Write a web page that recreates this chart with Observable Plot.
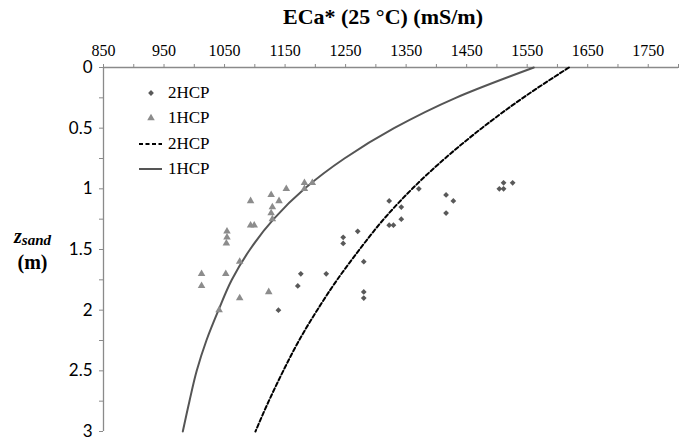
<!DOCTYPE html>
<html><head><meta charset="utf-8">
<script src="https://cdn.jsdelivr.net/npm/d3@7"></script>
<script src="https://cdn.jsdelivr.net/npm/@observablehq/plot@0.6"></script>
<style>
body{margin:0;background:#fff}
#wrap{position:relative;width:685px;height:440px;overflow:hidden}
#title{position:absolute;top:4px;left:383px;transform:translateX(-50%);white-space:nowrap;font-weight:bold;font-size:22px;font-family:"Liberation Serif","Times New Roman",serif;color:#000}
#ylab{position:absolute;left:14px;top:225px;font-weight:bold;font-size:20px;font-family:"Liberation Serif","Times New Roman",serif;color:#000;text-align:center;line-height:22px}
#ylab i{font-style:italic}
#ylab sub{font-size:15px;font-style:italic;vertical-align:-2px}
#legend{position:absolute;left:137px;top:80px;font-size:17px;font-family:"Liberation Serif","Times New Roman",serif;color:#000}
.row{display:flex;align-items:center;height:25.5px}
.row svg{width:26px;height:20px;margin-right:5px}
</style></head><body>
<div id="wrap"><div id="chart"></div>
<div id="title">ECa* (25 °C) (mS/m)</div>
<div id="ylab"><i>z</i><sub>sand</sub><br>(m)</div>
<div id="legend"></div>
</div>
<script>
// x-axis ticks (ECa*, mS/m)
const xTicks = [850, 950, 1050, 1150, 1250, 1350, 1450, 1550, 1650, 1750];
const xTickLabels = ["850", "950", "1050", "1150", "1250", "1350", "1450", "1550", "1650", "1750"];
const xMinorTicks = [850, 900, 950, 1000, 1050, 1100, 1150, 1200, 1250, 1300, 1350, 1400, 1450, 1500, 1550, 1600, 1650, 1700, 1750, 1800];
// y-axis ticks (z_sand, m)
const yTicks = [0, 0.5, 1, 1.5, 2, 2.5, 3];
const yTickLabels = ["0", "0.5", "1", "1.5", "2", "2.5", "3"];
const yMinorTicks = [0, 0.25, 0.5, 0.75, 1, 1.25, 1.5, 1.75, 2, 2.25, 2.5, 2.75, 3];

// 2HCP measured points
const hcp2EC = [1371, 1322, 1342, 1342, 1322, 1329, 1270, 1246, 1246, 1280, 1176, 1218, 1171, 1280, 1280, 1139, 1416, 1428, 1416, 1511, 1526, 1504, 1511];
const hcp2Z  = [1.00, 1.10, 1.15, 1.25, 1.30, 1.30, 1.35, 1.40, 1.45, 1.60, 1.70, 1.70, 1.80, 1.85, 1.90, 2.00, 1.05, 1.10, 1.20, 0.95, 0.95, 1.00, 1.00];
// 1HCP measured points
const hcp1EC = [1182, 1195, 1182, 1152, 1127, 1140, 1093, 1129, 1127, 1129, 1093, 1099, 1054, 1054, 1053, 1075, 1012, 1012, 1052, 1075, 1123, 1041];
const hcp1Z  = [0.95, 0.95, 1.00, 1.00, 1.05, 1.10, 1.10, 1.15, 1.20, 1.25, 1.30, 1.30, 1.35, 1.40, 1.45, 1.60, 1.70, 1.80, 1.70, 1.90, 1.85, 2.00];

// model curves
const curveZ     = [0, 0.25, 0.5, 0.75, 1.0, 1.25, 1.5, 1.75, 2.0, 2.25, 2.5, 2.75, 3.0];
const curve2HCP  = [1619, 1543, 1475, 1414, 1360, 1313, 1273, 1236, 1203, 1173, 1147, 1123, 1101];
const curve1HCP  = [1561, 1432, 1330, 1248, 1182, 1131, 1092, 1062, 1040, 1020, 1004, 992, 981];

const pts2 = hcp2EC.map((x, i) => ({x, z: hcp2Z[i]}));
const pts1 = hcp1EC.map((x, i) => ({x, z: hcp1Z[i]}));
const line2 = curveZ.map((z, i) => ({x: curve2HCP[i], z}));
const line1 = curveZ.map((z, i) => ({x: curve1HCP[i], z}));

const AX = "#8a8a8a";
const SERIF = "Liberation Serif, Times New Roman, serif";
const chart = Plot.plot({
  width: 685, height: 440,
  marginLeft: 103, marginRight: 7, marginTop: 67, marginBottom: 9,
  style: {background: "#fff", overflow: "visible"},
  x: {domain: [850, 1800]},
  y: {domain: [0, 3], reverse: true},
  marks: [
    Plot.ruleY([0], {stroke: AX, strokeWidth: 1.3}),
    Plot.ruleX([850], {stroke: AX, strokeWidth: 1.3}),
    Plot.axisX(xMinorTicks, {anchor: "top", tickSize: 4, stroke: AX, label: null, tickFormat: () => ""}),
    Plot.axisY(yMinorTicks, {anchor: "left", tickSize: 4, stroke: AX, label: null, tickFormat: () => ""}),
    Plot.text(xTicks, {x: d => d, frameAnchor: "top", dy: -17, lineAnchor: "middle",
      text: (d, i) => xTickLabels[i], fontFamily: SERIF, fontSize: 16, fill: "#000"}),
    Plot.text(yTicks, {y: d => d, frameAnchor: "left", dx: -11, textAnchor: "end", lineAnchor: "middle",
      text: (d, i) => yTickLabels[i], fontFamily: "Lato, sans-serif", fontSize: 17, fill: "#000"}),
    Plot.line(line1, {x: "x", y: "z", stroke: "#555", strokeWidth: 2, curve: "monotone-y"}),
    Plot.line(line2, {x: "x", y: "z", stroke: "#000", strokeWidth: 2, strokeDasharray: "4,2.5", curve: "monotone-y"}),
    Plot.dot(pts1, {x: "x", y: "z", symbol: "triangle", fill: "#8c8c8c", r: 2.8}),
    Plot.dot(pts2, {x: "x", y: "z", symbol: "diamond2", fill: "#595959", r: 2.6})
  ]
});
document.getElementById("chart").appendChild(chart);

// legend
const legendItems = [
  {label: "2HCP", kind: "diamond"},
  {label: "1HCP", kind: "triangle"},
  {label: "2HCP", kind: "dash"},
  {label: "1HCP", kind: "solid"}
];
const leg = document.getElementById("legend");
legendItems.forEach(it => {
  const row = document.createElement("div"); row.className = "row";
  let g = "";
  if (it.kind === "diamond") g = `<path transform="translate(14,10)" d="${d3.symbol(d3.symbolDiamond2, Math.PI*2.6*2.6)()}" fill="#595959"/>`;
  if (it.kind === "triangle") g = `<path transform="translate(14,10)" d="${d3.symbol(d3.symbolTriangle, Math.PI*2.8*2.8)()}" fill="#8c8c8c"/>`;
  if (it.kind === "dash") g = `<line x1="2" x2="25" y1="10" y2="10" stroke="#000" stroke-width="2" stroke-dasharray="4,2.5"/>`;
  if (it.kind === "solid") g = `<line x1="2" x2="25" y1="10" y2="10" stroke="#555" stroke-width="2"/>`;
  row.innerHTML = `<svg viewBox="0 0 26 20">${g}</svg><span>${it.label}</span>`;
  leg.appendChild(row);
});
</script>
</body></html>
